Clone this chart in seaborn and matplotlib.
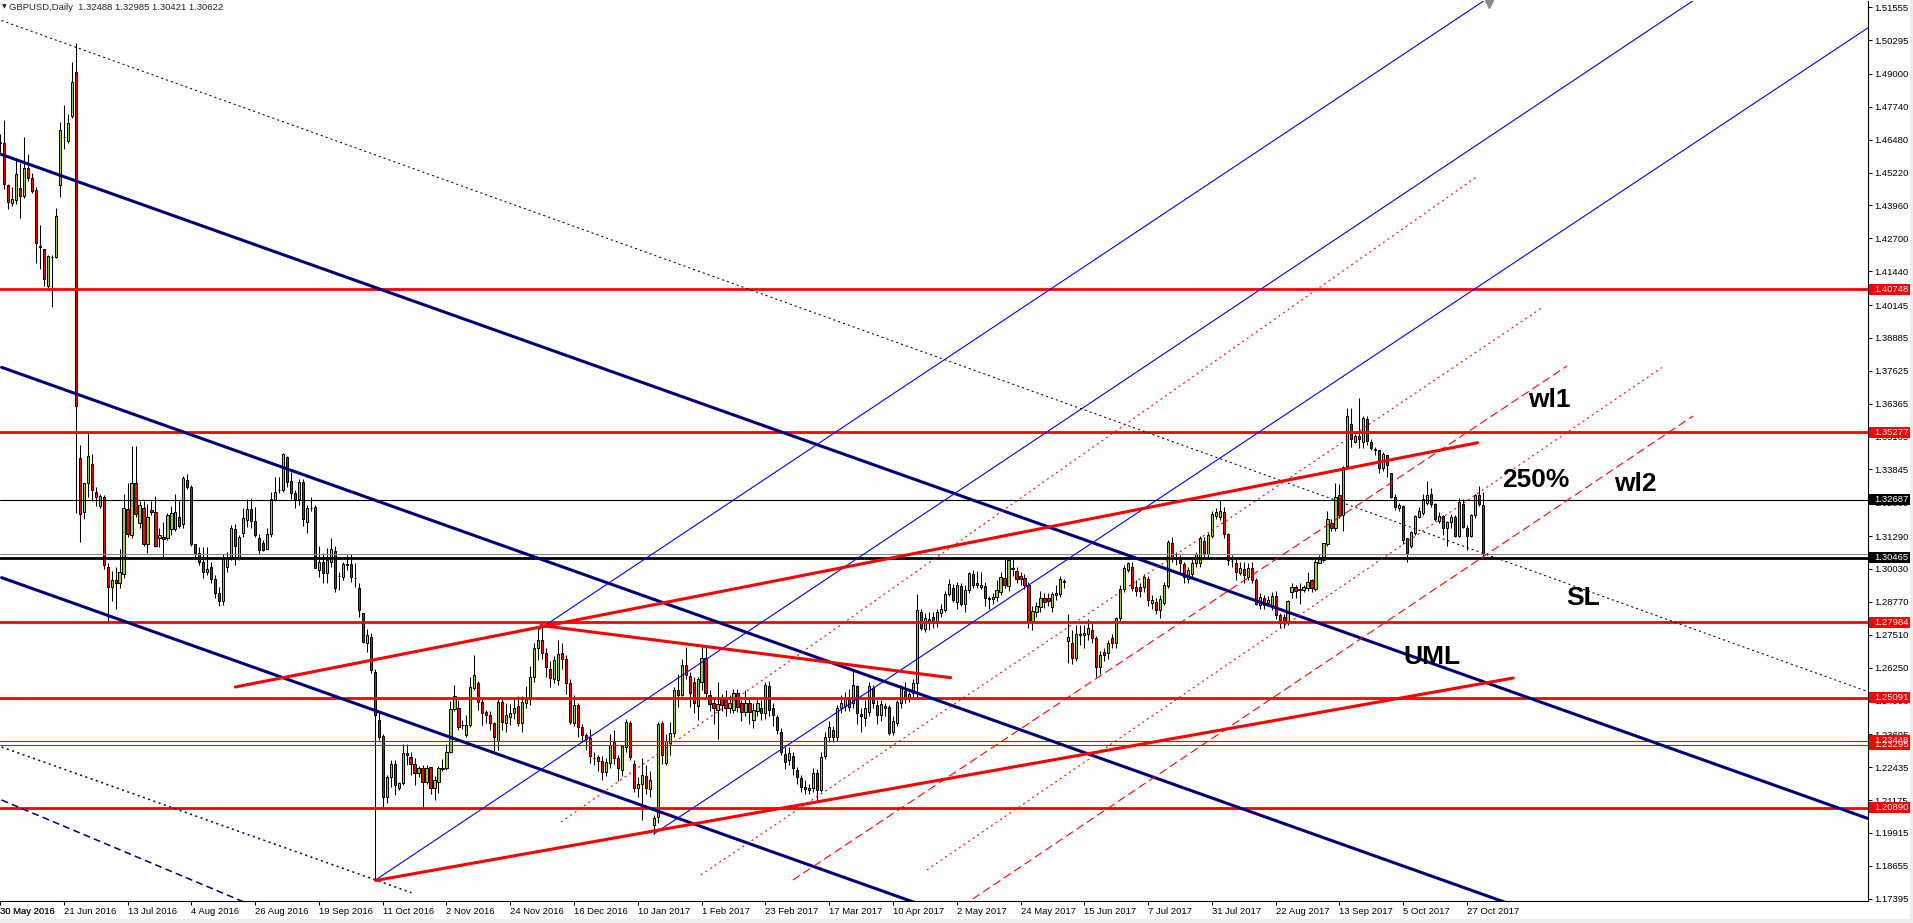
import matplotlib
matplotlib.use("Agg")
from matplotlib import pyplot as plt
from matplotlib import transforms
from matplotlib.patches import Rectangle
import seaborn as sns

# GBPUSD daily candles, bar 0 = 30 May 2016 ... bar 372 = 2 Nov 2017
opens = [
    1.4640, 1.4635, 1.4474, 1.4405, 1.4418, 1.4463, 1.4433, 1.4540, 1.4502, 1.4457,  # 0
    1.4240, 1.4229, 1.4087, 1.4200, 1.4197, 1.4474, 1.4658, 1.4642, 1.4738, 1.4907,  # 10
    1.3429, 1.3223, 1.3333, 1.3406, 1.3299, 1.3244, 1.3278, 1.3010, 1.2935, 1.2960,  # 20
    1.2950, 1.2982, 1.3234, 1.3134, 1.3333, 1.3179, 1.3237, 1.3099, 1.3230, 1.3220,  # 30
    1.3122, 1.3127, 1.3120, 1.3157, 1.3157, 1.3203, 1.3175, 1.3344, 1.3319, 1.3097,  # 40
    1.3065, 1.3031, 1.2992, 1.3010, 1.2965, 1.2910, 1.2880, 1.3010, 1.3045, 1.3155,  # 50
    1.3044, 1.3140, 1.3191, 1.3232, 1.3188, 1.3120, 1.3104, 1.3078, 1.3137, 1.3267,  # 60
    1.3305, 1.3306, 1.3433, 1.3341, 1.3295, 1.3270, 1.3338, 1.3184, 1.3238, 1.3239,  # 70
    1.2999, 1.3031, 1.2989, 1.3031, 1.3072, 1.2976, 1.2973, 1.3021, 1.3021, 1.2970,  # 80
    1.2929, 1.2833, 1.2721, 1.2744, 1.2610, 1.2424, 1.2363, 1.2128, 1.2205, 1.2256,  # 90
    1.2162, 1.2182, 1.2297, 1.2284, 1.2256, 1.2223, 1.2239, 1.2188, 1.2243, 1.2163,  # 100
    1.2188, 1.2236, 1.2239, 1.2303, 1.2465, 1.2469, 1.2405, 1.2367, 1.2405, 1.2546,  # 110
    1.2567, 1.2495, 1.2456, 1.2443, 1.2414, 1.2344, 1.2495, 1.2412, 1.2435, 1.2450,  # 120
    1.2478, 1.2412, 1.2488, 1.2507, 1.2590, 1.2700, 1.2731, 1.2680, 1.2619, 1.2580,  # 130
    1.2578, 1.2680, 1.2657, 1.2565, 1.2414, 1.2482, 1.2396, 1.2367, 1.2354, 1.2280,  # 140
    1.2281, 1.2268, 1.2226, 1.2258, 1.2339, 1.2277, 1.2233, 1.2322, 1.2412, 1.2256,  # 150
    1.2162, 1.2179, 1.2210, 1.2158, 1.2023, 1.2051, 1.2412, 1.2258, 1.2335, 1.2373,  # 160
    1.2539, 1.2520, 1.2635, 1.2594, 1.2570, 1.2478, 1.2571, 1.2661, 1.2520, 1.2488,  # 170
    1.2461, 1.2505, 1.2510, 1.2470, 1.2461, 1.2527, 1.2488, 1.2456, 1.2491, 1.2424,  # 180
    1.2460, 1.2469, 1.2450, 1.2555, 1.2469, 1.2437, 1.2380, 1.2294, 1.2271, 1.2286,  # 190
    1.2233, 1.2201, 1.2166, 1.2156, 1.2162, 1.2220, 1.2156, 1.2286, 1.2360, 1.2386,  # 200
    1.2358, 1.2469, 1.2478, 1.2514, 1.2488, 1.2555, 1.2447, 1.2431, 1.2456, 1.2546,  # 210
    1.2482, 1.2443, 1.2478, 1.2473, 1.2380, 1.2412, 1.2488, 1.2537, 1.2507, 1.2526,  # 220
    1.2567, 1.2839, 1.2772, 1.2810, 1.2818, 1.2797, 1.2836, 1.2846, 1.2907, 1.2929,  # 230
    1.2878, 1.2938, 1.2869, 1.2923, 1.2984, 1.2950, 1.2933, 1.2938, 1.2890, 1.2887,  # 240
    1.2897, 1.2916, 1.2967, 1.2938, 1.3005, 1.2997, 1.2976, 1.2967, 1.2942, 1.2805,  # 250
    1.2839, 1.2859, 1.2891, 1.2891, 1.2856, 1.2910, 1.2907, 1.2958, 1.2728, 1.2721,  # 260
    1.2661, 1.2753, 1.2750, 1.2754, 1.2769, 1.2737, 1.2626, 1.2686, 1.2682, 1.2737,  # 270
    1.2718, 1.2814, 1.2925, 1.2999, 1.3009, 1.2935, 1.2933, 1.2933, 1.2963, 1.2874,  # 280
    1.2878, 1.2846, 1.2874, 1.2938, 1.3104, 1.3048, 1.3037, 1.3021, 1.2963, 1.2984,  # 290
    1.3025, 1.3025, 1.3112, 1.3060, 1.3129, 1.3206, 1.3204, 1.3223, 1.3137, 1.3035,  # 300
    1.3027, 1.2989, 1.3002, 1.2974, 1.3005, 1.2961, 1.2865, 1.2891, 1.2874, 1.2861,  # 310
    1.2899, 1.2827, 1.2820, 1.2801, 1.2916, 1.2933, 1.2926, 1.2923, 1.2929, 1.2961,  # 320
    1.2925, 1.3027, 1.3037, 1.3099, 1.3181, 1.3159, 1.3287, 1.3210, 1.3398, 1.3559,  # 330
    1.3491, 1.3513, 1.3491, 1.3576, 1.3491, 1.3462, 1.3459, 1.3389, 1.3440, 1.3370,  # 340
    1.3278, 1.3235, 1.3245, 1.3120, 1.3091, 1.3142, 1.3203, 1.3219, 1.3257, 1.3290,  # 350
    1.3252, 1.3188, 1.3206, 1.3159, 1.3184, 1.3201, 1.3129, 1.3254, 1.3160, 1.3129,  # 360
    1.3210, 1.3287, 1.3249,                                                          # 370
]
highs = [
    1.4670, 1.4725, 1.4480, 1.4467, 1.4578, 1.4557, 1.4660, 1.4595, 1.4522, 1.4468,
    1.4323, 1.4230, 1.4206, 1.4206, 1.4385, 1.4715, 1.4781, 1.4747, 1.4945, 1.5017,
    1.3477, 1.3333, 1.3525, 1.3443, 1.3319, 1.3292, 1.3285, 1.3025, 1.2995, 1.3010,
    1.3080, 1.3289, 1.3333, 1.3473, 1.3473, 1.3263, 1.3263, 1.3251, 1.3263, 1.3284,
    1.3161, 1.3182, 1.3216, 1.3243, 1.3289, 1.3264, 1.3361, 1.3368, 1.3326, 1.3099,
    1.3086, 1.3088, 1.3086, 1.3030, 1.2980, 1.2935, 1.3060, 1.3070, 1.3170, 1.3175,
    1.3134, 1.3235, 1.3270, 1.3274, 1.3242, 1.3137, 1.3114, 1.3159, 1.3299, 1.3357,
    1.3357, 1.3446, 1.3436, 1.3376, 1.3306, 1.3347, 1.3347, 1.3248, 1.3280, 1.3248,
    1.3091, 1.3063, 1.3082, 1.3120, 1.3091, 1.2993, 1.3031, 1.3056, 1.3060, 1.3025,
    1.2948, 1.2835, 1.2772, 1.2759, 1.2619, 1.2452, 1.2371, 1.2214, 1.2271, 1.2271,
    1.2188, 1.2332, 1.2332, 1.2303, 1.2277, 1.2248, 1.2252, 1.2250, 1.2246, 1.2210,
    1.2248, 1.2275, 1.2332, 1.2498, 1.2558, 1.2501, 1.2424, 1.2443, 1.2590, 1.2673,
    1.2575, 1.2514, 1.2462, 1.2460, 1.2418, 1.2514, 1.2514, 1.2490, 1.2485, 1.2510,
    1.2517, 1.2515, 1.2555, 1.2630, 1.2720, 1.2775, 1.2782, 1.2700, 1.2650, 1.2670,
    1.2731, 1.2720, 1.2675, 1.2580, 1.2520, 1.2490, 1.2410, 1.2375, 1.2390, 1.2300,
    1.2290, 1.2285, 1.2280, 1.2370, 1.2385, 1.2290, 1.2330, 1.2430, 1.2420, 1.2270,
    1.2205, 1.2280, 1.2250, 1.2230, 1.2060, 1.2415, 1.2420, 1.2370, 1.2415, 1.2550,
    1.2600, 1.2660, 1.2705, 1.2610, 1.2590, 1.2590, 1.2706, 1.2705, 1.2540, 1.2510,
    1.2570, 1.2525, 1.2540, 1.2520, 1.2545, 1.2545, 1.2500, 1.2540, 1.2510, 1.2490,
    1.2510, 1.2500, 1.2570, 1.2575, 1.2490, 1.2445, 1.2395, 1.2320, 1.2320, 1.2300,
    1.2245, 1.2215, 1.2195, 1.2180, 1.2240, 1.2235, 1.2300, 1.2380, 1.2420, 1.2400,
    1.2480, 1.2520, 1.2530, 1.2545, 1.2615, 1.2560, 1.2470, 1.2500, 1.2570, 1.2560,
    1.2500, 1.2500, 1.2490, 1.2480, 1.2440, 1.2500, 1.2560, 1.2570, 1.2530, 1.2580,
    1.2907, 1.2850, 1.2835, 1.2840, 1.2840, 1.2850, 1.2870, 1.2918, 1.2965, 1.2945,
    1.2955, 1.2950, 1.2940, 1.2990, 1.3000, 1.2995, 1.2990, 1.2955, 1.2900, 1.2910,
    1.2960, 1.2990, 1.3048, 1.3045, 1.3040, 1.3010, 1.2990, 1.2985, 1.2955, 1.2860,
    1.2875, 1.2920, 1.2910, 1.2910, 1.2915, 1.2940, 1.2975, 1.2965, 1.2830, 1.2770,
    1.2790, 1.2790, 1.2790, 1.2810, 1.2800, 1.2745, 1.2690, 1.2700, 1.2730, 1.2755,
    1.2820, 1.2940, 1.3020, 1.3030, 1.3030, 1.2960, 1.2950, 1.2985, 1.2975, 1.2905,
    1.2890, 1.2905, 1.2955, 1.3115, 1.3125, 1.3070, 1.3055, 1.3030, 1.3010, 1.3040,
    1.3070, 1.3130, 1.3125, 1.3140, 1.3225, 1.3235, 1.3267, 1.3240, 1.3140, 1.3055,
    1.3040, 1.3030, 1.3030, 1.3025, 1.3030, 1.2970, 1.2910, 1.2905, 1.2900, 1.2916,
    1.2920, 1.2835, 1.2830, 1.2885, 1.2950, 1.2940, 1.2950, 1.2940, 1.2990, 1.2965,
    1.3050, 1.3055, 1.3101, 1.3226, 1.3193, 1.3333, 1.3330, 1.3398, 1.3619, 1.3619,
    1.3520, 1.3657, 1.3591, 1.3591, 1.3500, 1.3470, 1.3460, 1.3450, 1.3440, 1.3370,
    1.3290, 1.3255, 1.3250, 1.3120, 1.3150, 1.3210, 1.3240, 1.3290, 1.3340, 1.3312,
    1.3255, 1.3220, 1.3210, 1.3188, 1.3214, 1.3210, 1.3275, 1.3270, 1.3170, 1.3215,
    1.3290, 1.3320, 1.32985,
]
lows = [
    1.4590, 1.4461, 1.4381, 1.4395, 1.4400, 1.4348, 1.4426, 1.4490, 1.4444, 1.4175,
    1.4151, 1.4087, 1.4078, 1.4007, 1.4196, 1.4430, 1.4612, 1.4637, 1.4733, 1.3216,
    1.3106, 1.3196, 1.3278, 1.3264, 1.3244, 1.3237, 1.3003, 1.2800, 1.2880, 1.2850,
    1.2930, 1.2969, 1.3127, 1.3120, 1.3202, 1.3161, 1.3093, 1.3065, 1.3210, 1.3086,
    1.3086, 1.3047, 1.3113, 1.3134, 1.3147, 1.3161, 1.3161, 1.3308, 1.3093, 1.3045,
    1.3017, 1.2969, 1.2979, 1.2950, 1.2890, 1.2860, 1.2865, 1.2990, 1.3038, 1.3017,
    1.3037, 1.3127, 1.3163, 1.3162, 1.3127, 1.3061, 1.3073, 1.3078, 1.3127, 1.3265,
    1.3293, 1.3299, 1.3318, 1.3270, 1.3236, 1.3248, 1.3168, 1.3140, 1.3225, 1.3005,
    1.2974, 1.2948, 1.2948, 1.3010, 1.2916, 1.2922, 1.2961, 1.3000, 1.2955, 1.2935,
    1.2818, 1.2721, 1.2686, 1.2603, 1.1811, 1.2348, 1.2092, 1.2105, 1.2169, 1.2137,
    1.2156, 1.2175, 1.2252, 1.2214, 1.2175, 1.2205, 1.2082, 1.2180, 1.2141, 1.2116,
    1.2144, 1.2230, 1.2232, 1.2296, 1.2460, 1.2386, 1.2389, 1.2360, 1.2399, 1.2539,
    1.2463, 1.2405, 1.2411, 1.2386, 1.2303, 1.2309, 1.2386, 1.2380, 1.2405, 1.2430,
    1.2400, 1.2380, 1.2470, 1.2480, 1.2570, 1.2655, 1.2660, 1.2590, 1.2552, 1.2565,
    1.2560, 1.2620, 1.2525, 1.2410, 1.2400, 1.2360, 1.2340, 1.2310, 1.2260, 1.2250,
    1.2230, 1.2195, 1.2210, 1.2240, 1.2255, 1.2190, 1.2210, 1.2300, 1.2270, 1.2150,
    1.2130, 1.2041, 1.2140, 1.2130, 1.1988, 1.2030, 1.2255, 1.2250, 1.2290, 1.2360,
    1.2475, 1.2515, 1.2580, 1.2475, 1.2450, 1.2424, 1.2540, 1.2510, 1.2460, 1.2410,
    1.2350, 1.2460, 1.2440, 1.2450, 1.2450, 1.2455, 1.2420, 1.2440, 1.2410, 1.2395,
    1.2440, 1.2425, 1.2430, 1.2440, 1.2400, 1.2370, 1.2290, 1.2235, 1.2250, 1.2215,
    1.2180, 1.2150, 1.2140, 1.2140, 1.2150, 1.2111, 1.2150, 1.2275, 1.2340, 1.2340,
    1.2345, 1.2450, 1.2460, 1.2460, 1.2470, 1.2410, 1.2380, 1.2400, 1.2440, 1.2470,
    1.2410, 1.2420, 1.2440, 1.2365, 1.2365, 1.2400, 1.2470, 1.2490, 1.2495, 1.2510,
    1.2507, 1.2770, 1.2760, 1.2770, 1.2775, 1.2780, 1.2820, 1.2840, 1.2900, 1.2875,
    1.2850, 1.2860, 1.2840, 1.2910, 1.2930, 1.2930, 1.2925, 1.2860, 1.2850, 1.2870,
    1.2880, 1.2905, 1.2930, 1.2920, 1.2975, 1.2950, 1.2940, 1.2925, 1.2776, 1.2770,
    1.2820, 1.2840, 1.2855, 1.2860, 1.2840, 1.2885, 1.2895, 1.2930, 1.2641, 1.2640,
    1.2650, 1.2710, 1.2700, 1.2730, 1.2720, 1.2590, 1.2600, 1.2650, 1.2660, 1.2700,
    1.2700, 1.2805, 1.2915, 1.2990, 1.2920, 1.2900, 1.2895, 1.2915, 1.2860, 1.2850,
    1.2830, 1.2815, 1.2865, 1.2930, 1.3030, 1.3020, 1.2990, 1.2950, 1.2950, 1.2970,
    1.3010, 1.3010, 1.3050, 1.3050, 1.3120, 1.3195, 1.3190, 1.3120, 1.3020, 1.3010,
    1.2960, 1.2980, 1.2950, 1.2960, 1.2950, 1.2865, 1.2850, 1.2850, 1.2860, 1.2845,
    1.2810, 1.2775, 1.2775, 1.2790, 1.2890, 1.2890, 1.2870, 1.2915, 1.2920, 1.2915,
    1.2920, 1.3025, 1.3030, 1.3090, 1.3150, 1.3150, 1.3200, 1.3150, 1.3395, 1.3472,
    1.3485, 1.3465, 1.3465, 1.3478, 1.3460, 1.3440, 1.3370, 1.3380, 1.3355, 1.3275,
    1.3230, 1.3225, 1.3100, 1.3028, 1.3085, 1.3135, 1.3200, 1.3210, 1.3250, 1.3240,
    1.3186, 1.3180, 1.3133, 1.3091, 1.3160, 1.3125, 1.3125, 1.3160, 1.3075, 1.3125,
    1.3200, 1.3245, 1.30421,
]
closes = [
    1.4635, 1.4477, 1.4408, 1.4422, 1.4516, 1.4433, 1.4540, 1.4502, 1.4450, 1.4254,
    1.4238, 1.4114, 1.4202, 1.4199, 1.4357, 1.4685, 1.4660, 1.4711, 1.4870, 1.3629,
    1.3212, 1.3333, 1.3436, 1.3306, 1.3278, 1.3281, 1.3017, 1.2935, 1.2960, 1.2950,
    1.2990, 1.3237, 1.3138, 1.3333, 1.3212, 1.3248, 1.3099, 1.3203, 1.3220, 1.3093,
    1.3132, 1.3117, 1.3209, 1.3216, 1.3223, 1.3168, 1.3350, 1.3319, 1.3099, 1.3065,
    1.3031, 1.2992, 1.3003, 1.2965, 1.2910, 1.2880, 1.3040, 1.3045, 1.3160, 1.3093,
    1.3127, 1.3197, 1.3232, 1.3188, 1.3133, 1.3076, 1.3076, 1.3136, 1.3270, 1.3299,
    1.3306, 1.3444, 1.3338, 1.3293, 1.3270, 1.3338, 1.3193, 1.3236, 1.3237, 1.3008,
    1.3031, 1.2986, 1.3037, 1.3078, 1.2929, 1.2975, 1.3022, 1.3020, 1.2971, 1.2967,
    1.2846, 1.2725, 1.2750, 1.2616, 1.2443, 1.2360, 1.2128, 1.2207, 1.2256, 1.2175,
    1.2181, 1.2297, 1.2289, 1.2256, 1.2223, 1.2239, 1.2188, 1.2240, 1.2162, 1.2194,
    1.2239, 1.2241, 1.2303, 1.2465, 1.2517, 1.2399, 1.2406, 1.2405, 1.2552, 1.2597,
    1.2495, 1.2450, 1.2443, 1.2414, 1.2358, 1.2495, 1.2418, 1.2444, 1.2450, 1.2469,
    1.2412, 1.2495, 1.2507, 1.2590, 1.2700, 1.2731, 1.2680, 1.2626, 1.2587, 1.2654,
    1.2677, 1.2657, 1.2565, 1.2418, 1.2482, 1.2396, 1.2367, 1.2350, 1.2286, 1.2278,
    1.2268, 1.2226, 1.2265, 1.2328, 1.2277, 1.2240, 1.2325, 1.2418, 1.2284, 1.2162,
    1.2179, 1.2213, 1.2162, 1.2195, 1.2047, 1.2409, 1.2290, 1.2344, 1.2376, 1.2539,
    1.2520, 1.2635, 1.2597, 1.2527, 1.2488, 1.2580, 1.2661, 1.2527, 1.2486, 1.2469,
    1.2486, 1.2480, 1.2470, 1.2490, 1.2527, 1.2473, 1.2456, 1.2488, 1.2456, 1.2463,
    1.2490, 1.2450, 1.2559, 1.2463, 1.2443, 1.2386, 1.2303, 1.2265, 1.2299, 1.2239,
    1.2205, 1.2169, 1.2160, 1.2162, 1.2220, 1.2156, 1.2284, 1.2360, 1.2396, 1.2358,
    1.2469, 1.2488, 1.2514, 1.2473, 1.2559, 1.2452, 1.2440, 1.2469, 1.2555, 1.2488,
    1.2443, 1.2486, 1.2469, 1.2376, 1.2422, 1.2495, 1.2546, 1.2504, 1.2524, 1.2567,
    1.2846, 1.2776, 1.2814, 1.2801, 1.2795, 1.2839, 1.2850, 1.2907, 1.2945, 1.2884,
    1.2942, 1.2869, 1.2923, 1.2986, 1.2942, 1.2942, 1.2942, 1.2891, 1.2887, 1.2894,
    1.2923, 1.2971, 1.2942, 1.3037, 1.3002, 1.2963, 1.2963, 1.2942, 1.2805, 1.2843,
    1.2861, 1.2891, 1.2878, 1.2881, 1.2907, 1.2903, 1.2963, 1.2955, 1.2741, 1.2661,
    1.2754, 1.2750, 1.2759, 1.2776, 1.2737, 1.2626, 1.2673, 1.2673, 1.2718, 1.2721,
    1.2814, 1.2925, 1.3006, 1.3025, 1.2929, 1.2920, 1.2920, 1.2971, 1.2884, 1.2884,
    1.2846, 1.2887, 1.2942, 1.3108, 1.3048, 1.3040, 1.3025, 1.2974, 1.2999, 1.3027,
    1.3060, 1.3121, 1.3063, 1.3133, 1.3214, 1.3223, 1.3227, 1.3137, 1.3037, 1.3033,
    1.2993, 1.3006, 1.2980, 1.3005, 1.2961, 1.2869, 1.2894, 1.2865, 1.2884, 1.2899,
    1.2827, 1.2797, 1.2801, 1.2882, 1.2933, 1.2920, 1.2924, 1.2933, 1.2954, 1.2929,
    1.3031, 1.3040, 1.3101, 1.3193, 1.3159, 1.3280, 1.3210, 1.3395, 1.3589, 1.3500,
    1.3513, 1.3500, 1.3580, 1.3495, 1.3465, 1.3459, 1.3389, 1.3444, 1.3401, 1.3278,
    1.3239, 1.3248, 1.3116, 1.3066, 1.3146, 1.3206, 1.3226, 1.3270, 1.3287, 1.3252,
    1.3193, 1.3206, 1.3159, 1.3184, 1.3201, 1.3129, 1.3261, 1.3163, 1.3129, 1.3210,
    1.3287, 1.3252, 1.30622,
]

# date axis: one label every 16 bars
date_ticks = [0, 16, 32, 48, 64, 80, 96, 112, 128, 144, 160, 176,
              192, 208, 224, 240, 256, 272, 288, 304, 320, 336, 352, 368]
date_labels = ["30 May 2016", "21 Jun 2016", "13 Jul 2016", "4 Aug 2016",
               "26 Aug 2016", "19 Sep 2016", "11 Oct 2016", "2 Nov 2016",
               "24 Nov 2016", "16 Dec 2016", "10 Jan 2017", "1 Feb 2017",
               "23 Feb 2017", "17 Mar 2017", "10 Apr 2017", "2 May 2017",
               "24 May 2017", "15 Jun 2017", "7 Jul 2017", "31 Jul 2017",
               "22 Aug 2017", "13 Sep 2017", "5 Oct 2017", "27 Oct 2017"]

price_ticks = [1.51555, 1.50295, 1.49000, 1.47740, 1.46480, 1.45220, 1.43960,
               1.42700, 1.41440, 1.40145, 1.38885, 1.37625, 1.36365, 1.35105,
               1.33845, 1.32585, 1.31290, 1.30030, 1.28770, 1.27510, 1.26250,
               1.24990, 1.23695, 1.22435, 1.21175, 1.19915, 1.18655, 1.17395]

red_levels = [1.40748, 1.35277, 1.27984, 1.25091, 1.20890]
thin_red_levels = [1.23295, 1.23448]
black_thin_level = 1.32687
black_thick_level = 1.30465
bid_level = 1.30622

# drawn objects as (bar0, price0, bar1, price1)
navy_fork = [(0.4, 1.45914, 468.6, 1.20468),
             (0.4, 1.37759, 468.6, 1.12310),
             (0.4, 1.29700, 468.6, 1.04252)]
navy_dotted = [(0.4, 1.23209, 103.2, 1.17625)]
navy_dashed = [(0.4, 1.21178, 63.0, 1.17153)]
blue_fork = [(94.2, 1.18112, 429.0, 1.52246),
             (135.0, 1.27693, 376.3, 1.52218),
             (164.0, 1.19875, 468.6, 1.50770)]
red_trend = [(59.05, 1.25508, 370.7, 1.34870),
             (135.7, 1.27866, 238.5, 1.25864),
             (94.2, 1.18093, 379.6, 1.25853)]
red_dotted = [(140.75, 1.20335, 370.7, 1.45090),
              (175.8, 1.18304, 387.1, 1.40070),
              (232.5, 1.18495, 416.9, 1.37752)]
red_dashed = [(198.9, 1.18112, 393.1, 1.37809),
              (244.0, 1.17384, 424.7, 1.35893)]
black_dotted = [(0.4, 1.51049, 468.6, 1.25328)]

notes = [("wl1", 383.4, 1.36238), ("250%", 376.8, 1.33172), ("wl2", 404.9, 1.33019),
         ("SL", 392.9, 1.28650), ("UML", 352.0, 1.26390)]

header = "GBPUSD,Daily  1.32488 1.32985 1.30421 1.30622"

sns.set_theme(style="white")
plt.rcParams["font.family"] = ["Liberation Sans", "DejaVu Sans"]
plt.rcParams["lines.scale_dashes"] = False

W, H = 1913, 923
fig = plt.figure(figsize=(W / 100, H / 100), dpi=100)
fig.patch.set_facecolor("white")
ax = fig.add_axes([0, 22 / H, 1868 / W, 900.5 / H])
ax.set_facecolor("white")

bars = list(range(len(closes)))
ax.set_xlim(0.401, 468.6)
ax.set_ylim(1.17307, 1.51816)

# candles
ax.vlines(bars, lows, highs, color="black", linewidth=0.75, zorder=2)
body_bottom = [min(o, c) for o, c in zip(opens, closes)]
body_height = [max(abs(c - o), 0.00004) for o, c in zip(opens, closes)]
body_color = ["#9ACD32" if c >= o else "#FF0000" for o, c in zip(opens, closes)]
ax.bar(bars, body_height, bottom=body_bottom, width=0.55, color=body_color,
       edgecolor="black", linewidth=0.7, zorder=2.5)


def draw(segs, color, lw, ls="-"):
    for x0, y0, x1, y1 in segs:
        sns.lineplot(x=[x0, x1], y=[y0, y1], ax=ax, color=color, linewidth=lw,
                     linestyle=ls, sort=False, estimator=None, zorder=4)


# horizontal levels
for p in red_levels:
    ax.axhline(p, color="#FF0000", linewidth=2.0, zorder=4)
for p in thin_red_levels:
    ax.axhline(p, color="#FF0000", linewidth=0.8, zorder=4)
ax.axhline(bid_level, color="#8C8C8C", linewidth=0.8, zorder=4)
ax.axhline(black_thin_level, color="black", linewidth=0.8, zorder=4)
ax.axhline(black_thick_level, color="black", linewidth=2.0, zorder=4)

draw(black_dotted, "black", 0.75, (0, (1.5, 2.2)))
draw(navy_fork, "#000080", 2.2)
draw(navy_dotted, "#000080", 1.1, (0, (1.5, 2.5)))
draw(navy_dashed, "#000080", 1.1, (0, (5, 3)))
draw(blue_fork, "#0000FF", 0.8)
draw(red_trend, "#FF0000", 2.2)
draw(red_dotted, "#FF0000", 0.8, (0, (1.5, 2.5)))
draw(red_dashed, "#FF0000", 0.8, (0, (6, 3)))

for txt, bx, py in notes:
    ax.text(bx, py, txt, fontsize=19, fontweight="bold", color="black",
            ha="left", va="baseline", zorder=6)

# axes look like the terminal chart
for side in ["top", "left"]:
    ax.spines[side].set_visible(False)
for side in ["right", "bottom"]:
    ax.spines[side].set_color("black")
    ax.spines[side].set_linewidth(0.8)
ax.grid(False)

ax.set_xticks(date_ticks)
ax.set_xticklabels(date_labels)
for lab in ax.get_xticklabels():
    lab.set_ha("left")
ax.tick_params(axis="x", direction="out", length=3, width=0.75, pad=1.5,
               labelsize=6.8, colors="black", bottom=True)
ax.annotate(date_labels[0], xy=(date_ticks[0], 0), xycoords=("data", "axes fraction"),
            xytext=(0.3, -4.5), textcoords="offset points", ha="left", va="top",
            fontsize=6.8, annotation_clip=False)

ax.yaxis.tick_right()
ax.set_yticks(price_ticks)
ax.set_yticklabels([f"{p:.5f}" for p in price_ticks])
ax.tick_params(axis="y", direction="out", length=3, width=0.75, pad=1.5,
               labelsize=6.8, colors="black", right=True)

# price tags on the scale
tr = transforms.blended_transform_factory(ax.transAxes, ax.transData)
box_w = 41 / 1868
box_h = 11 / 2609.5
tags = [(p, "#FF0000") for p in red_levels + thin_red_levels]
tags += [(black_thin_level, "black"), (black_thick_level, "black")]
for p, col in tags:
    ax.add_patch(Rectangle((1.0006, p - box_h / 2), box_w, box_h, transform=tr,
                           facecolor=col, edgecolor="none", clip_on=False, zorder=7))
    ax.text(1.0032, p, f"{p:.5f}", transform=tr, color="white", fontsize=6.8,
            ha="left", va="center", clip_on=False, zorder=8)

# chart shift marker and header
ax.plot([373.6], [1.5168], marker="v", color="#8C8C8C", markersize=6,
        clip_on=False, zorder=8)
fig.text(2 / W, 1 - 7 / H, "\u25BC", fontsize=4.5, family="DejaVu Sans",
         va="center", ha="left")
fig.text(9 / W, 1 - 7 / H, header, fontsize=6.8, va="center", ha="left")

# grey window frame strips
fig.patches.append(Rectangle((1910 / W, 0), 3 / W, 1, transform=fig.transFigure,
                             facecolor="#EDEDED", edgecolor="none", zorder=-1))
fig.patches.append(Rectangle((0, 0), 1, 4 / H, transform=fig.transFigure,
                             facecolor="#EDEDED", edgecolor="none", zorder=-1))

if ax.get_legend() is not None:
    ax.get_legend().remove()

fig.savefig("out.png", dpi=100, facecolor=fig.get_facecolor())
